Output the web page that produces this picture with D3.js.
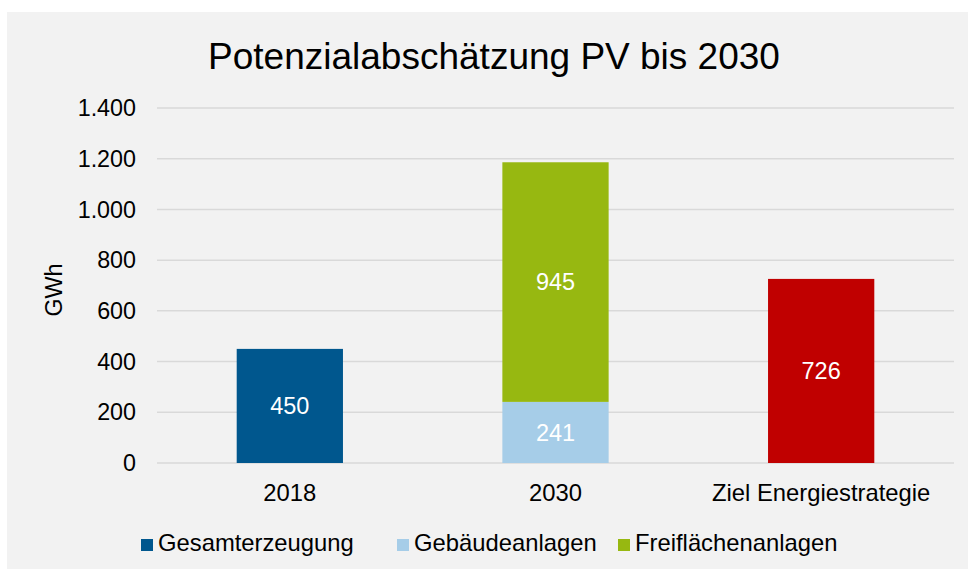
<!DOCTYPE html>
<html>
<head>
<meta charset="utf-8">
<script src="https://cdn.jsdelivr.net/npm/d3@7"></script>
<style>
  html, body { margin: 0; padding: 0; background: #fff; }
  svg { display: block; font-family: "Liberation Sans", Arial, sans-serif; }
</style>
</head>
<body>
<svg id="viz" width="968" height="569"></svg>
<script>
const categories = ["2018", "2030", "Ziel Energiestrategie"];
const seriesNames = ["Gesamterzeugung", "Gebäudeanlagen", "Freiflächenanlagen", "Ziel"];
const gesamterzeugung = [450, 0, 0];
const gebaeudeanlagen = [0, 241, 0];
const freiflaechenanlagen = [0, 945, 0];
const ziel = [0, 0, 726];
const legendNames = ["Gesamterzeugung", "Gebäudeanlagen", "Freiflächenanlagen"];
const yTicks = [0, 200, 400, 600, 800, 1000, 1200, 1400];
const colors = ["#00578e", "#a6cde8", "#97b811", "#c00000"];

const rows = categories.map((c, i) => ({
  cat: c,
  "Gesamterzeugung": gesamterzeugung[i],
  "Gebäudeanlagen": gebaeudeanlagen[i],
  "Freiflächenanlagen": freiflaechenanlagen[i],
  "Ziel": ziel[i]
}));

const svg = d3.select("#viz");
const W = 968, H = 569;
const plot = { left: 157, right: 954, top: 108, bottom: 463 };

// panel background
svg.append("rect").attr("x", 7).attr("y", 12)
  .attr("width", W - 7).attr("height", H - 12).attr("fill", "#f2f2f2");

const x = d3.scaleBand().domain(categories)
  .range([plot.left, plot.right]).paddingInner(0.6).paddingOuter(0.3);
const y = d3.scaleLinear().domain([0, 1400]).range([plot.bottom, plot.top]);
const color = d3.scaleOrdinal().domain(seriesNames).range(colors);

// title
svg.append("text").attr("x", 494).attr("y", 69)
  .attr("text-anchor", "middle").attr("font-size", 37).attr("fill", "#000")
  .text("Potenzialabschätzung PV bis 2030");

// grid
svg.append("g").selectAll("line").data(yTicks).join("line")
  .attr("x1", plot.left).attr("x2", plot.right)
  .attr("y1", d => y(d)).attr("y2", d => y(d))
  .attr("stroke", "#d9d9d9").attr("stroke-width", 1.5);

// y axis labels
const fmt = d => d3.format(",")(d).replace(/,/g, ".");
svg.append("g").selectAll("text").data(yTicks).join("text")
  .attr("x", 136).attr("y", d => y(d)).attr("dy", "0.35em")
  .attr("text-anchor", "end").attr("font-size", 23.3).attr("fill", "#000")
  .text(fmt);

// y title
svg.append("text").attr("transform", "translate(62,290) rotate(-90)")
  .attr("text-anchor", "middle").attr("font-size", 23.3).attr("fill", "#000")
  .text("GWh");

// bars
const stacked = d3.stack().keys(seriesNames)(rows);
const layers = svg.append("g").selectAll("g").data(stacked).join("g")
  .attr("fill", d => color(d.key));
layers.selectAll("rect").data(d => d.filter(p => p[1] - p[0] > 0)).join("rect")
  .attr("x", d => x(d.data.cat))
  .attr("width", x.bandwidth())
  .attr("y", d => y(d[1]))
  .attr("height", d => y(d[0]) - y(d[1]));

// data labels
layers.selectAll("text").data(d => d.filter(p => p[1] - p[0] > 0)).join("text")
  .attr("x", d => x(d.data.cat) + x.bandwidth() / 2)
  .attr("y", d => (y(d[0]) + y(d[1])) / 2).attr("dy", "0.35em")
  .attr("text-anchor", "middle").attr("font-size", 23.5).attr("fill", "#fff")
  .text(d => d[1] - d[0]);

// x labels
svg.append("g").selectAll("text").data(categories).join("text")
  .attr("x", d => x(d) + x.bandwidth() / 2).attr("y", 501)
  .attr("text-anchor", "middle").attr("font-size", 23.8).attr("fill", "#000")
  .text(d => d);

// legend
const legendX = [141, 397, 618];
const legend = svg.append("g").selectAll("g").data(legendNames).join("g")
  .attr("transform", (d, i) => `translate(${legendX[i]},539)`);
legend.append("rect").attr("width", 12).attr("height", 12)
  .attr("fill", d => color(d));
legend.append("text").attr("x", 17).attr("y", 12)
  .attr("font-size", 23.8).attr("fill", "#000")
  .text(d => d);
</script>
</body>
</html>
